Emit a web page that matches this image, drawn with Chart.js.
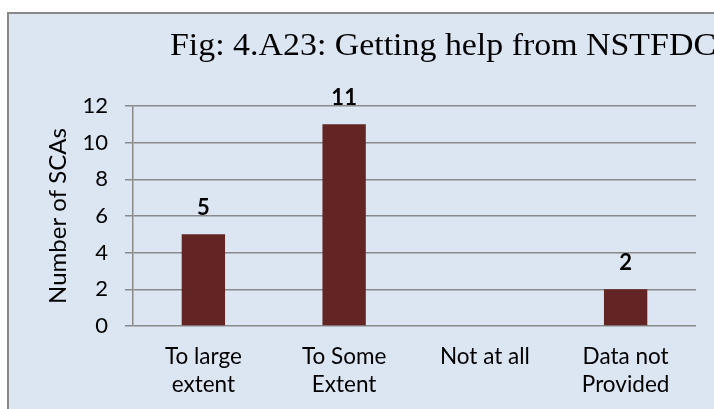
<!DOCTYPE html>
<html><head><meta charset="utf-8">
<script src="https://cdn.jsdelivr.net/npm/chart.js@4.4.1/dist/chart.umd.min.js"></script>
<style>html,body{margin:0;padding:0;background:#fff;overflow:hidden}canvas{display:block}</style>
</head><body>
<canvas id="c" width="714" height="409"></canvas>
<script>
const TITLE = 'Fig: 4.A23: Getting help from NSTFDC';
const Y_TITLE = 'Number of SCAs';
const CATEGORIES = [['To large', 'extent'], ['To Some', 'Extent'], ['Not at all'], ['Data not', 'Provided']];
const VALUES = [5, 11, 0, 2];
const Y_MIN = 0, Y_MAX = 12, Y_STEP = 2;

const SANS = "Lato, 'Open Sans', sans-serif";
const BAR_COLOR = '#632523';
const GRID = '#8a8a8a';

const framePlugin = {
  id: 'frame',
  beforeDraw(chart) {
    const ctx = chart.ctx, w = chart.width, h = chart.height;
    ctx.save();
    ctx.fillStyle = '#ffffff';
    ctx.fillRect(0, 0, w, h);
    ctx.fillStyle = '#DCE6F2';
    ctx.fillRect(8, 13, w, h);
    ctx.strokeStyle = '#888888';
    ctx.lineWidth = 2;
    ctx.beginPath();
    ctx.moveTo(8, h + 2);
    ctx.lineTo(8, 13);
    ctx.lineTo(w + 2, 13);
    ctx.stroke();
    ctx.restore();
  }
};

const titlePlugin = {
  id: 'sideTitle',
  afterDraw(chart) {
    const ctx = chart.ctx;
    ctx.save();
    ctx.font = "31px 'Liberation Serif', serif";
    ctx.fillStyle = '#000';
    ctx.textBaseline = 'alphabetic';
    ctx.textAlign = 'left';
    const w = ctx.measureText(TITLE).width;
    const s = 546 / w;
    ctx.translate(170, 55);
    ctx.scale(s, 1);
    ctx.fillText(TITLE, 0, 0);
    ctx.restore();
  }
};

const valueLabels = {
  id: 'valueLabels',
  afterDatasetsDraw(chart) {
    const ctx = chart.ctx;
    const meta = chart.getDatasetMeta(0);
    ctx.save();
    ctx.font = "bold 22px " + SANS;
    ctx.fillStyle = '#000';
    ctx.textAlign = 'center';
    ctx.textBaseline = 'alphabetic';
    meta.data.forEach((bar, i) => {
      const v = VALUES[i];
      if (!v) return;
      ctx.fillText(String(v), bar.x, bar.y - 19);
    });
    ctx.restore();
  }
};

function draw() {
  new Chart(document.getElementById('c'), {
    type: 'bar',
    data: {
      labels: CATEGORIES,
      datasets: [{
        data: VALUES,
        backgroundColor: BAR_COLOR,
        borderWidth: 0,
        barPercentage: 0.308,
        categoryPercentage: 1
      }]
    },
    options: {
      responsive: false,
      devicePixelRatio: 1,
      animation: false,
      layout: { padding: { top: 106, right: 18, left: 0, bottom: 0 } },
      plugins: { legend: { display: false }, tooltip: { enabled: false }, title: { display: false } },
      scales: {
        x: {
          grid: { display: false, drawTicks: false },
          border: { display: false },
          ticks: { font: { family: SANS, size: 22.5, lineHeight: 1.25 }, color: '#000', padding: 17, maxRotation: 0, autoSkip: false },
          afterFit(s) { s.height = 83; }
        },
        y: {
          min: Y_MIN, max: Y_MAX,
          ticks: { stepSize: Y_STEP, font: { family: SANS, size: 22 }, color: '#000', padding: 17 },
          grid: { color: GRID, lineWidth: 1.5, tickLength: 8, drawTicks: true },
          border: { display: true, color: GRID, width: 1.5 },
          title: { display: true, text: Y_TITLE, font: { family: SANS, size: 24 }, color: '#000', padding: { top: 44, bottom: 0 } },
          afterFit(s) { s.width = 133; }
        }
      }
    },
    plugins: [framePlugin, valueLabels, titlePlugin]
  });
}

const fontLoads = [
  document.fonts.load("22px Lato"),
  document.fonts.load("bold 22px Lato"),
  document.fonts.load("31px 'Liberation Serif'")
];
Promise.all(fontLoads).then(draw, draw);
</script>
</body></html>
